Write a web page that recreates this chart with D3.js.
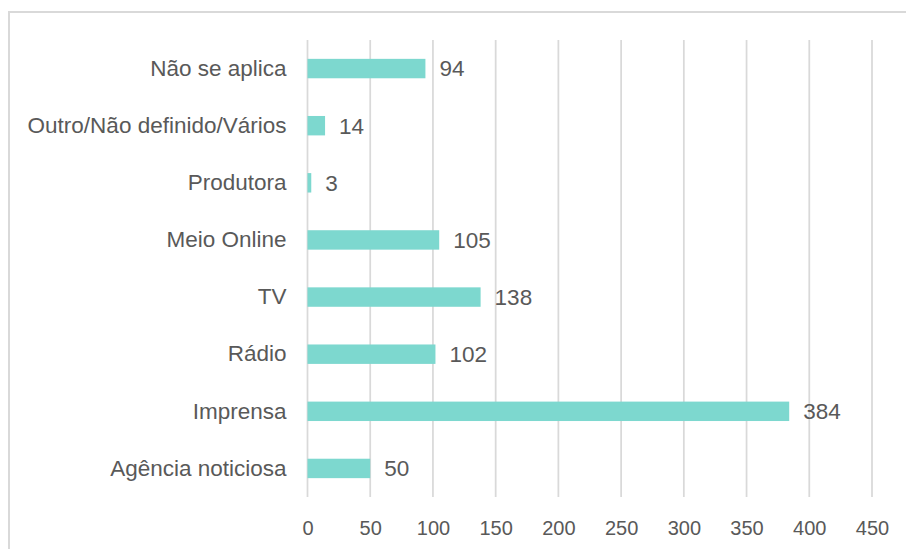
<!DOCTYPE html>
<html>
<head>
<meta charset="utf-8">
<script src="https://cdn.jsdelivr.net/npm/d3@7"></script>
<style>
  body { margin: 0; background: #fff; }
  text { font-family: "Liberation Sans", Arial, sans-serif; fill: #595959; }
</style>
</head>
<body>
<svg id="chart"></svg>
<script>
// data
var categories = ['Não se aplica', 'Outro/Não definido/Vários', 'Produtora', 'Meio Online', 'TV', 'Rádio', 'Imprensa', 'Agência noticiosa'];
var values = [94, 14, 3, 105, 138, 102, 384, 50];
var ticks = [0, 50, 100, 150, 200, 250, 300, 350, 400, 450];

// layout
var W = 906, H = 549;
var margin = {top: 40, right: 34, bottom: 52, left: 307.5};
var width = W - margin.left - margin.right;
var height = H - margin.top - margin.bottom;

var svg = d3.select('#chart')
  .attr('width', W)
  .attr('height', H);

// chart frame
svg.append('rect')
  .attr('x', 9)
  .attr('y', 12)
  .attr('width', W + 20)
  .attr('height', H + 20)
  .attr('fill', 'none')
  .attr('stroke', '#d9d9d9')
  .attr('stroke-width', 2);

var g = svg.append('g')
  .attr('transform', 'translate(' + margin.left + ',' + margin.top + ')');

// scales
var x = d3.scaleLinear().domain([0, 450]).range([0, width]);
var y = d3.scaleBand().domain(categories).range([0, height]).paddingInner(0.66).paddingOuter(0.33);

// gridlines
g.selectAll('line.grid')
  .data(ticks)
  .enter()
  .append('line')
    .attr('class', 'grid')
    .attr('x1', function(d) { return x(d); })
    .attr('x2', function(d) { return x(d); })
    .attr('y1', 0)
    .attr('y2', height)
    .attr('stroke', '#d9d9d9')
    .attr('stroke-width', 1.75);

// x axis labels
var xAxis = g.append('g')
  .attr('transform', 'translate(0,' + height + ')')
  .call(d3.axisBottom(x).tickValues(ticks).tickSize(0).tickPadding(24));
xAxis.select('.domain').remove();
xAxis.selectAll('text')
  .style('font-size', '20px')
  .style('font-family', '"Liberation Sans", Arial, sans-serif')
  .attr('fill', '#595959');

// y axis labels
var yAxis = g.append('g')
  .call(d3.axisLeft(y).tickSize(0).tickPadding(21));
yAxis.select('.domain').remove();
yAxis.selectAll('text')
  .style('font-size', '22.5px')
  .style('font-family', '"Liberation Sans", Arial, sans-serif')
  .attr('fill', '#595959');

// bars
g.selectAll('rect.bar')
  .data(values)
  .enter()
  .append('rect')
    .attr('class', 'bar')
    .attr('x', x(0))
    .attr('y', function(d, i) { return y(categories[i]); })
    .attr('width', function(d) { return x(d) - x(0); })
    .attr('height', y.bandwidth())
    .attr('fill', '#7dd8cf');

// value labels
g.selectAll('text.value')
  .data(values)
  .enter()
  .append('text')
    .attr('class', 'value')
    .attr('x', function(d) { return x(d) + 14; })
    .attr('y', function(d, i) { return y(categories[i]) + y.bandwidth() / 2; })
    .attr('dy', '0.35em')
    .style('font-size', '22.5px')
    .text(function(d) { return d; });
</script>
</body>
</html>
